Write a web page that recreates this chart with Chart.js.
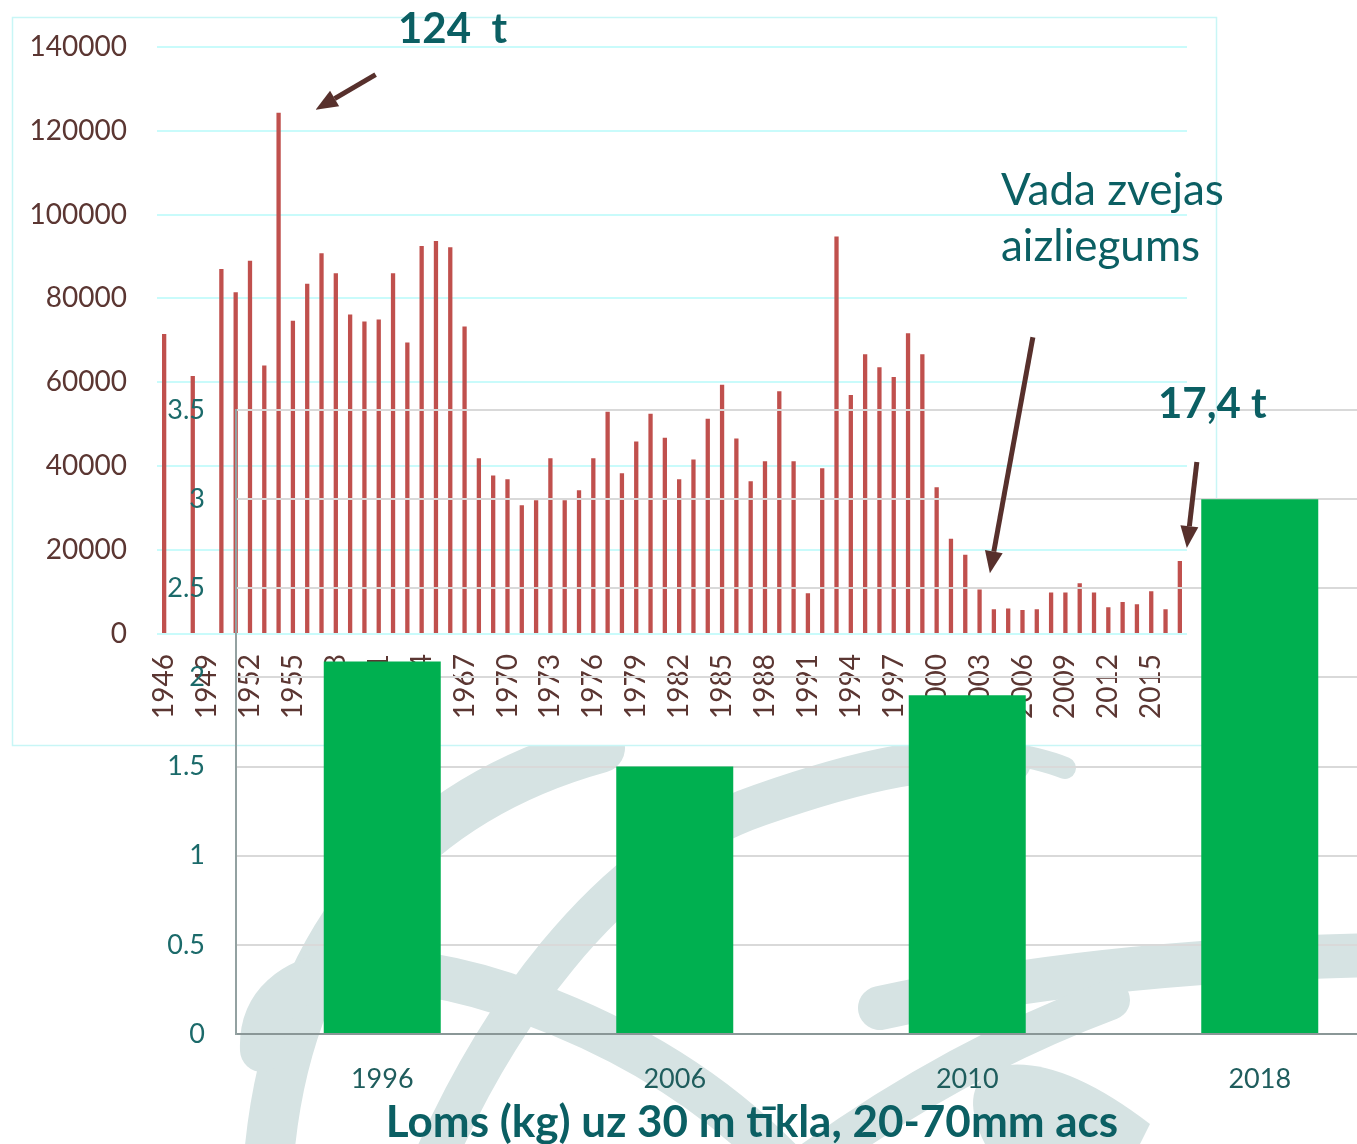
<!DOCTYPE html>
<html>
<head>
<meta charset="utf-8">
<script src="https://cdn.jsdelivr.net/npm/chart.js@4.4.1/dist/chart.umd.min.js"></script>
<style>
html, body { margin: 0; padding: 0; background: #fff; overflow: hidden; }
#page { position: relative; width: 1357px; height: 1144px; overflow: hidden; }
#history, #nets { position: absolute; left: 0; top: 0; }
</style>
</head>
<body>
<div id="page">
  <canvas id="history" width="1357" height="1144"></canvas>
  <canvas id="nets" width="1420" height="1144"></canvas>
</div>
<script>
// yearly catch, kg (1947 and 1949 have no data)
const years = [
  '1946', '1947', '1948', '1949', '1950', '1951', '1952', '1953', '1954', '1955',
  '1956', '1957', '1958', '1959', '1960', '1961', '1962', '1963', '1964', '1965',
  '1966', '1967', '1968', '1969', '1970', '1971', '1972', '1973', '1974', '1975',
  '1976', '1977', '1978', '1979', '1980', '1981', '1982', '1983', '1984', '1985',
  '1986', '1987', '1988', '1989', '1990', '1991', '1992', '1993', '1994', '1995',
  '1996', '1997', '1998', '1999', '2000', '2001', '2002', '2003', '2004', '2005',
  '2006', '2007', '2008', '2009', '2010', '2011', '2012', '2013', '2014', '2015',
  '2016', '2017'
];
const catchKg = [
  71500, null, 61500, null, 87000, 81500, 89000, 64000, 124300, 74700,
  83500, 90800, 86000, 76200, 74500, 75000, 86000, 69500, 92500, 93700,
  92200, 73300, 41900, 37800, 36900, 30700, 31900, 41900, 31900, 34300,
  41900, 53000, 38300, 45900, 52500, 46800, 36900, 41600, 51300, 59400,
  46600, 36400, 41200, 57900, 41200, 9700, 39500, 94800, 57000, 66700,
  63600, 61300, 71700, 66700, 35000, 22700, 18900, 10600, 5900, 6100,
  5700, 5900, 9900, 9900, 12100, 9900, 6400, 7600, 7100, 10200,
  5900, 17400
];

// catch per 30 m net
const netYears = ['1996', '2006', '2010', '2018'];
const netCatch = [2.09, 1.5, 1.9, 3.0];

const brown = '#5b3632';
const teal = '#0b5f63';

function swoosh(ctx, w, x0, y0, ...segs) {
  ctx.lineWidth = w;
  ctx.beginPath();
  ctx.moveTo(x0, y0);
  for (const s of segs) {
    if (s.length === 4) ctx.quadraticCurveTo(...s);
    else ctx.bezierCurveTo(...s);
  }
  ctx.stroke();
}

// watermark logo behind everything, then the white frame of the old chart
const backdrop = {
  id: 'backdrop',
  beforeDraw(chart) {
    const ctx = chart.ctx;
    ctx.save();
    ctx.strokeStyle = ctx.fillStyle = '#d6e3e3';
    ctx.lineCap = 'round';
    swoosh(ctx, 50, 600, 748, [430, 795, 285, 920, 268, 1170]);
    swoosh(ctx, 44, 262, 1050, [258, 958, 390, 950, 530, 1003], [630, 1040, 720, 1095, 790, 1170]);
    swoosh(ctx, 42, 430, 1170, [490, 1030, 600, 860, 760, 805], [860, 770, 940, 752, 1010, 762]);
    swoosh(ctx, 22, 1000, 752, [1040, 758, 1065, 768]);
    swoosh(ctx, 44, 880, 1008, [1100, 960, 1380, 955]);
    swoosh(ctx, 40, 800, 1170, [950, 1060, 1110, 1000]);
    ctx.beginPath();
    ctx.moveTo(1150, 1124);
    ctx.quadraticCurveTo(1060, 1055, 1000, 1066);
    ctx.quadraticCurveTo(955, 1085, 985, 1144);
    ctx.lineTo(1140, 1144);
    ctx.closePath();
    ctx.fill();

    ctx.fillStyle = '#fff';
    ctx.fillRect(12, 17, 1204, 728);
    ctx.strokeStyle = '#c8f6f6';
    ctx.lineWidth = 1.5;
    ctx.strokeRect(12.5, 17.5, 1204, 728);
    ctx.restore();
  }
};

const historyChart = new Chart(document.getElementById('history'), {
  type: 'bar',
  data: {
    labels: years,
    datasets: [{
      data: catchKg,
      backgroundColor: '#c0504d',
      barPercentage: 0.3,
      categoryPercentage: 1
    }]
  },
  options: {
    responsive: false,
    animation: false,
    devicePixelRatio: 1,
    layout: { padding: { left: 0, top: 42, right: 170, bottom: 410 } },
    plugins: { legend: { display: false }, tooltip: { enabled: false } },
    scales: {
      x: {
        grid: { display: false, drawTicks: false },
        border: { display: false },
        ticks: {
          autoSkip: false,
          minRotation: 90,
          maxRotation: 90,
          padding: 20,
          color: brown,
          font: { family: 'Lato', size: 28 },
          callback: (v, i) => (i % 3 === 0 ? years[i] : '')
        },
        afterFit: s => { s.height = 100; }
      },
      y: {
        min: 0,
        max: 140000,
        ticks: {
          stepSize: 20000,
          padding: 30,
          color: brown,
          font: { family: 'Lato', size: 28 },
          callback: v => String(v)
        },
        grid: { color: '#c9fbfb', lineWidth: 2, drawTicks: false },
        border: { display: false },
        afterFit: s => { s.width = 157; }
      }
    }
  },
  plugins: [backdrop]
});

function arrow(ctx, x1, y1, x2, y2) {
  const a = Math.atan2(y2 - y1, x2 - x1);
  const head = 22, half = 9;
  const bx = x2 - head * Math.cos(a), by = y2 - head * Math.sin(a);
  ctx.beginPath();
  ctx.moveTo(x1, y1);
  ctx.lineTo(bx, by);
  ctx.stroke();
  ctx.beginPath();
  ctx.moveTo(x2, y2);
  ctx.lineTo(bx + half * Math.sin(a), by - half * Math.cos(a));
  ctx.lineTo(bx - half * Math.sin(a), by + half * Math.cos(a));
  ctx.closePath();
  ctx.fill();
}

// callouts on the old series, plus the caption under the net chart
const notes = {
  id: 'notes',
  afterDraw(chart) {
    const ctx = chart.ctx;
    const xs = historyChart.scales.x, ys = historyChart.scales.y;
    const at = y => {
      const i = years.indexOf(y);
      return [xs.getPixelForValue(i), ys.getPixelForValue(catchKg[i])];
    };
    ctx.save();
    ctx.strokeStyle = '#57302c';
    ctx.fillStyle = '#57302c';
    ctx.lineWidth = 5;

    const [px, py] = at('1954');
    arrow(ctx, px + 97, py - 38, px + 37, py - 3);
    const [bx, by] = at('2004');
    arrow(ctx, bx + 39, by - 272, bx - 4, by - 36);
    const [lx, ly] = at('2017');
    arrow(ctx, lx + 17, ly - 99, lx + 7, ly - 13);

    ctx.fillStyle = teal;
    ctx.textAlign = 'left';
    ctx.textBaseline = 'alphabetic';
    ctx.font = 'bold 42px Lato';
    ctx.fillText('124  t', 398, 43);
    ctx.fillText('17,4 t', 1158, 418);
    ctx.font = '44px Lato';
    ctx.fillText('Vada zvejas', 1001, 205);
    ctx.fillText('aizliegums', 1001, 261);

    ctx.textAlign = 'center';
    ctx.font = 'bold 44px Lato';
    ctx.fillText('Loms (kg) uz 30 m tīkla, 20-70mm acs', 752, 1137);
    ctx.restore();
  }
};

new Chart(document.getElementById('nets'), {
  type: 'bar',
  data: {
    labels: netYears,
    datasets: [{
      data: netCatch,
      backgroundColor: '#00b050',
      barPercentage: 0.4,
      categoryPercentage: 1
    }]
  },
  options: {
    responsive: false,
    animation: false,
    devicePixelRatio: 1,
    layout: { padding: { left: 0, top: 410, right: 14, bottom: 10 } },
    plugins: { legend: { display: false }, tooltip: { enabled: false } },
    scales: {
      x: {
        grid: { display: false, drawTicks: false },
        border: { color: '#8a9797', width: 2 },
        ticks: { padding: 29, color: '#1f5d5d', font: { family: 'Lato', size: 27 } },
        afterFit: s => { s.height = 100; }
      },
      y: {
        min: 0,
        max: 3.5,
        ticks: {
          stepSize: 0.5,
          padding: 31,
          color: '#1b6a6a',
          font: { family: 'Lato', size: 27 },
          callback: v => String(v)
        },
        grid: { color: '#d9d9d9', lineWidth: 2, drawTicks: false },
        border: { color: '#93a1a1', width: 2 },
        afterFit: s => { s.width = 236; }
      }
    }
  },
  plugins: [notes]
});
</script>
</body>
</html>
